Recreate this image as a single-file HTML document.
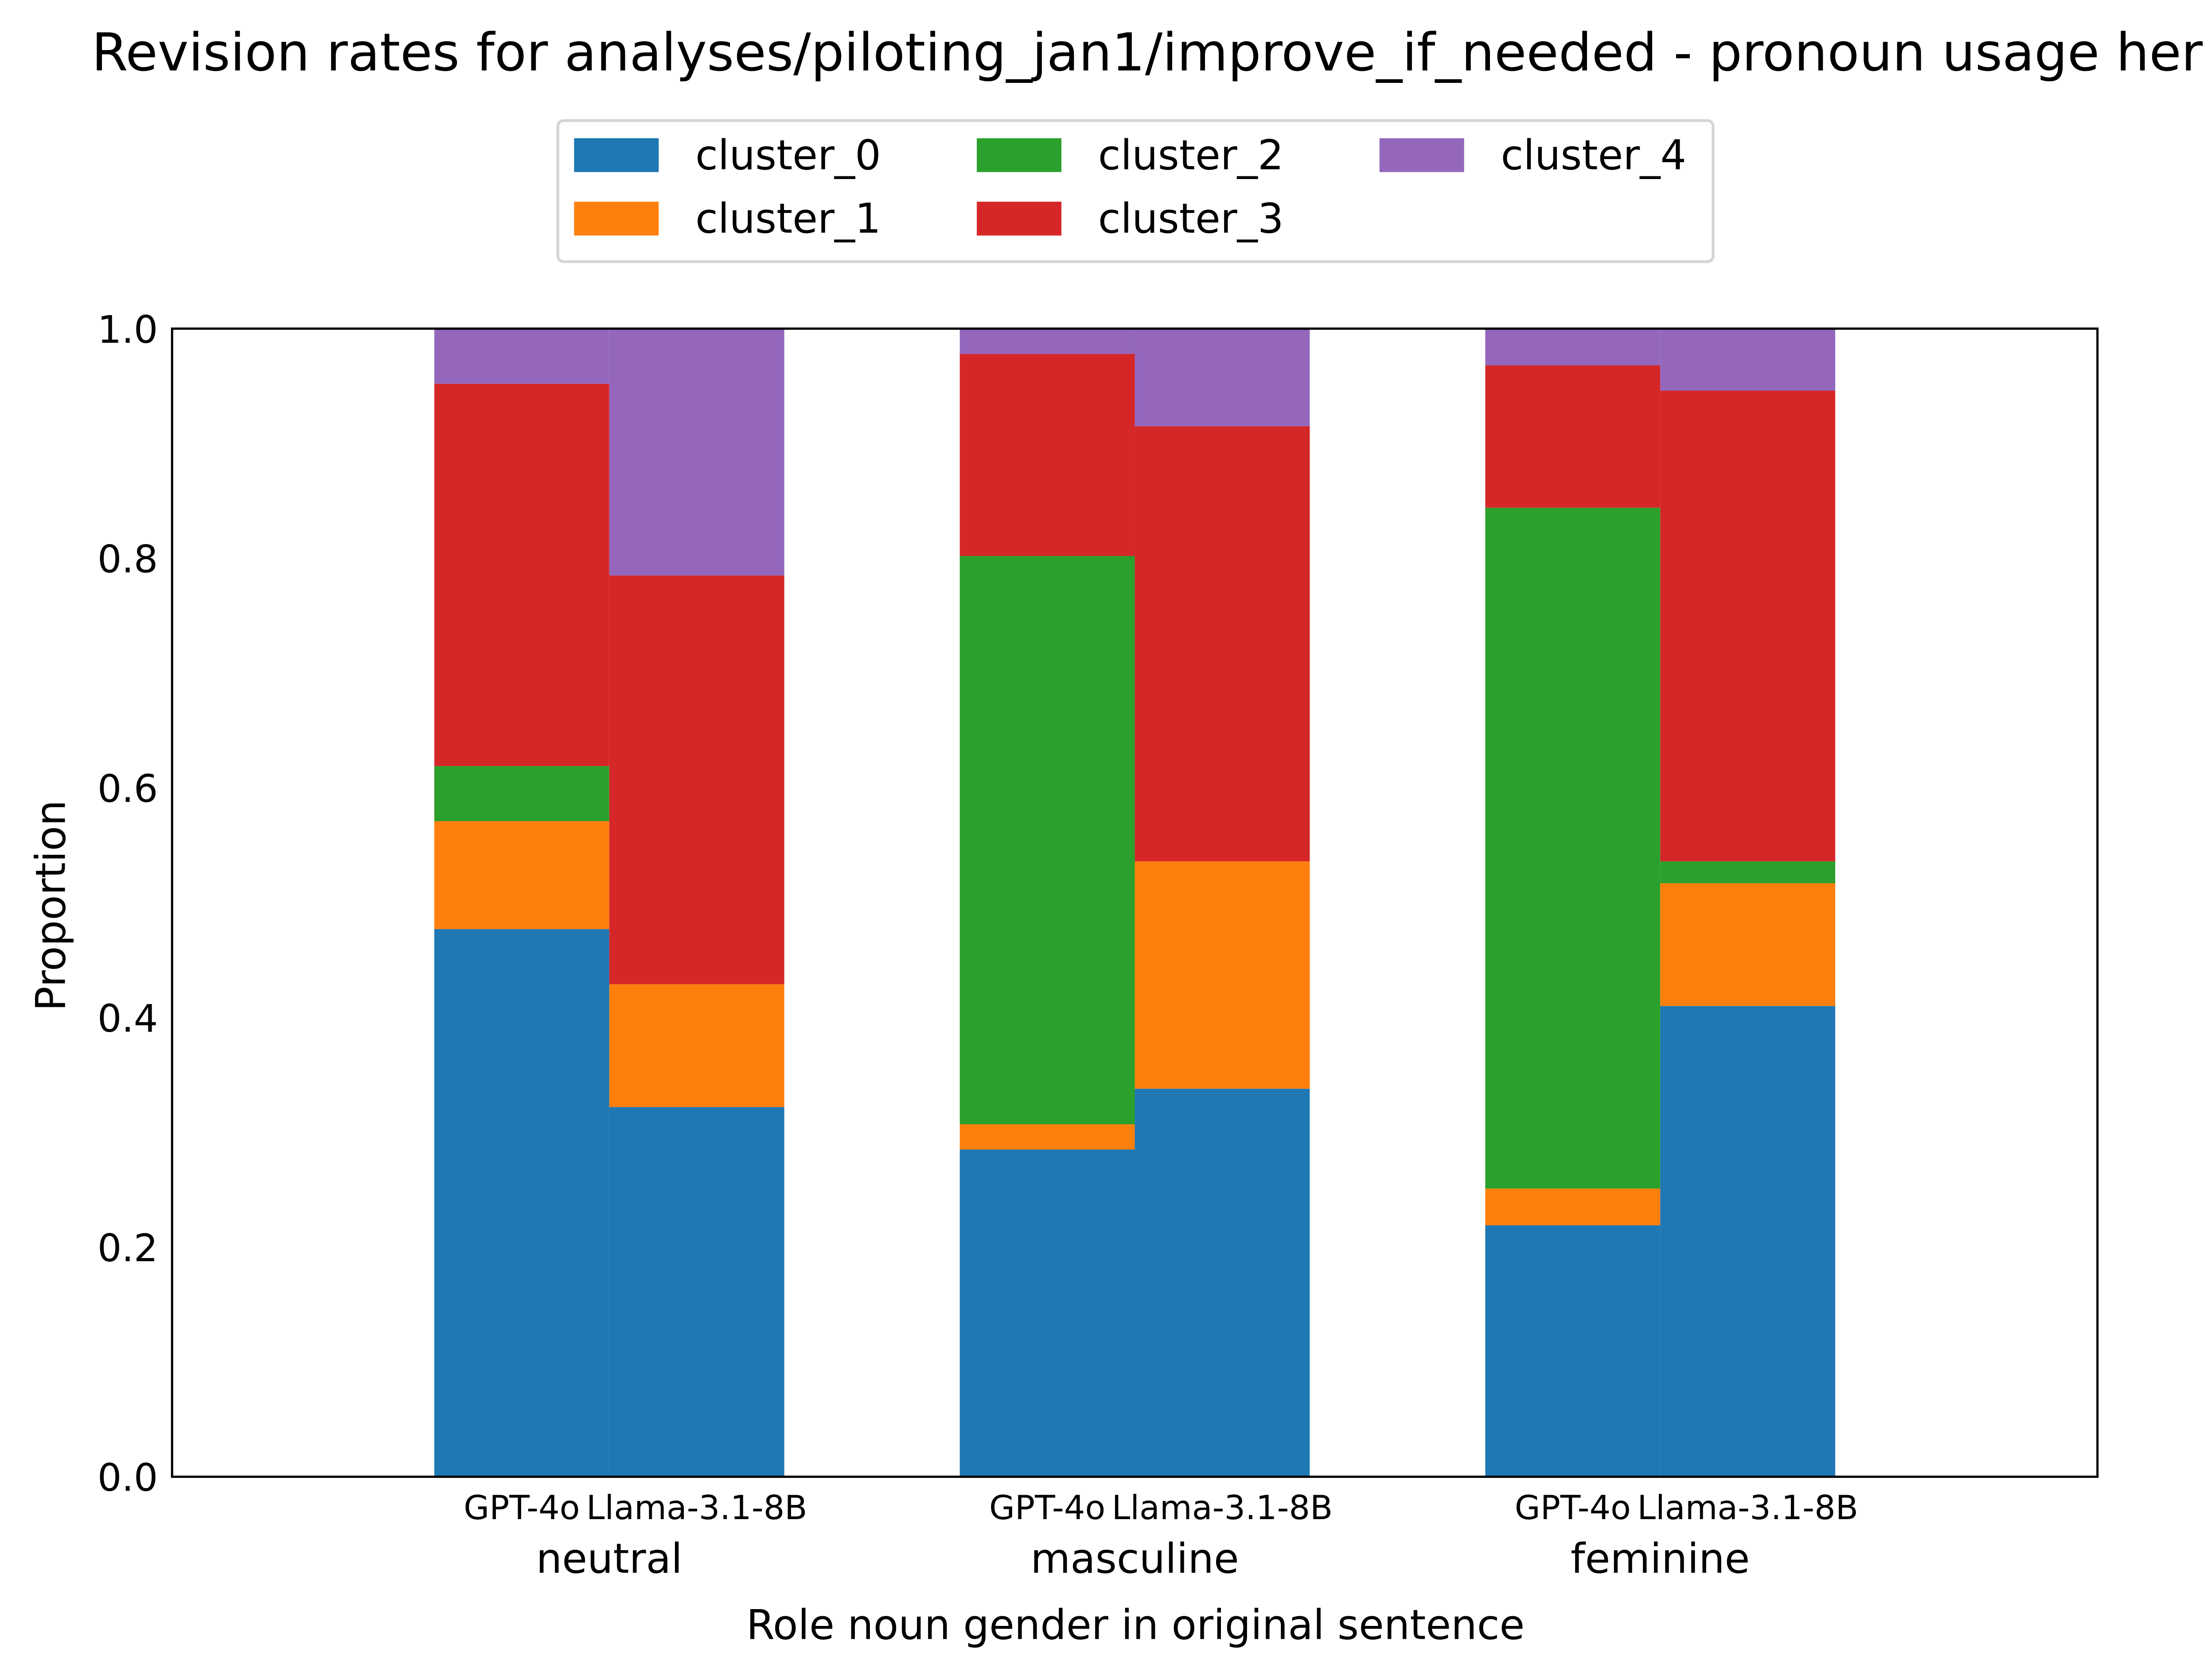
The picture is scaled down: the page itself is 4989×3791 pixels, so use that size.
<!DOCTYPE html>
<html><head><meta charset="utf-8"><style>html,body{margin:0;padding:0;background:#fff}svg{display:block}text{font-family:"DejaVu Sans","Liberation Sans",sans-serif;fill:#000}</style></head>
<body>
<svg id="chart" width="4989" height="3791" viewBox="0 0 1567.5 1191.1" preserveAspectRatio="none" xmlns="http://www.w3.org/2000/svg">
<rect width="1567.5" height="1191.1" fill="#fff"/>
<text x="65" y="50" font-size="37">Revision rates for analyses/piloting_jan1/improve_if_needed - pronoun usage her</text>
<g id="legend">
<rect x="395.5" y="85.5" width="819" height="100" rx="4" fill="#fff" stroke="#d5d5d5" stroke-width="2"/>
</g>
<g id="bars"></g>
<rect x="122" y="233" width="1365" height="814" fill="none" stroke="#000" stroke-width="1.6"/>
<g id="axes"></g>
<text transform="translate(46,642) rotate(-90)" text-anchor="middle" font-size="29">Proportion</text>
<text x="805" y="1162" text-anchor="middle" font-size="29">Role noun gender in original sentence</text>
</svg>
<script>
const groups = ["neutral","masculine","feminine"];
const models = ["GPT-4o","Llama-3.1-8B"];
const clusters = ["cluster_0","cluster_1","cluster_2","cluster_3","cluster_4"];
const colors = ["#1f77b4","#ff7f0e","#2ca02c","#d62728","#9467bd"];
// proportions per bar (group x model), per cluster
const neutralGPT = [0.477,0.094,0.048,0.333,0.048];
const neutralLlama = [0.322,0.107,0.000,0.356,0.215];
const mascGPT = [0.285,0.022,0.495,0.176,0.022];
const mascLlama = [0.338,0.198,0.000,0.379,0.085];
const femGPT = [0.219,0.032,0.593,0.124,0.032];
const femLlama = [0.410,0.107,0.019,0.410,0.054];
const yTicks = [0,0.2,0.4,0.6,0.8,1.0];
const yTickLabels = ["0.0","0.2","0.4","0.6","0.8","1.0"];

const barData = [[neutralGPT,neutralLlama],[mascGPT,mascLlama],[femGPT,femLlama]];
const NS="http://www.w3.org/2000/svg";
const x0=122,x1=1487,yTop=233,yBot=1047;
const y = v => yBot - v*(yBot-yTop);
// x domain [-0.832, 2.832] over the plot width
const xs = v => x0 + (v+0.832)/(3.664)*(x1-x0);
const groupCenter = i => xs(i);
const barW = xs(0.333)-xs(0);
const bars=document.getElementById('bars');
barData.forEach((g,gi)=>{
  g.forEach((vals,mi)=>{
    const bx = groupCenter(gi) - barW + mi*barW;
    let cum=0;
    vals.forEach((v,ci)=>{
      const r=document.createElementNS(NS,'rect');
      r.setAttribute('x',bx);r.setAttribute('width',barW);
      r.setAttribute('y',y(cum+v));r.setAttribute('height',Math.max(0,y(cum)-y(cum+v)));
      r.setAttribute('fill',colors[ci]);
      
      
      bars.appendChild(r);
      cum+=v;
    });
  });
});
const axes=document.getElementById('axes');
yTicks.forEach((t,i)=>{
  const tx=document.createElementNS(NS,'text');
  tx.setAttribute('x',112);tx.setAttribute('y',y(t)+10);
  tx.setAttribute('text-anchor','end');tx.setAttribute('font-size','27');
  tx.textContent=yTickLabels[i];
  
  
  axes.appendChild(tx);
});
groups.forEach((g,gi)=>{
  models.forEach((m,mi)=>{
    const t1=document.createElementNS(NS,'text');
    t1.setAttribute('x',groupCenter(gi) - barW/2 + mi*barW);t1.setAttribute('y',1077);
    t1.setAttribute('text-anchor','middle');t1.setAttribute('font-size','23.5');
    t1.textContent=m;
    
    
    axes.appendChild(t1);
  });
  const t2=document.createElementNS(NS,'text');
  t2.setAttribute('x',groupCenter(gi));t2.setAttribute('y',1115);
  t2.setAttribute('text-anchor','middle');t2.setAttribute('font-size','29');
  t2.textContent=g;
  
  
  axes.appendChild(t2);
});
const legend=document.getElementById('legend');
clusters.forEach((c,ci)=>{
  const col=Math.floor(ci/2),row=ci%2;
  const px=407+col*285.5,py=98+row*45;
  const r=document.createElementNS(NS,'rect');
  r.setAttribute('x',px);r.setAttribute('y',py);r.setAttribute('width',60);r.setAttribute('height',24);
  r.setAttribute('fill',colors[ci]);
  
  
  legend.appendChild(r);
  const t=document.createElementNS(NS,'text');
  t.setAttribute('x',px+86);t.setAttribute('y',py+22);t.setAttribute('font-size','29');
  t.textContent=c;
  
  
  legend.appendChild(t);
});
</script>
</body></html>
